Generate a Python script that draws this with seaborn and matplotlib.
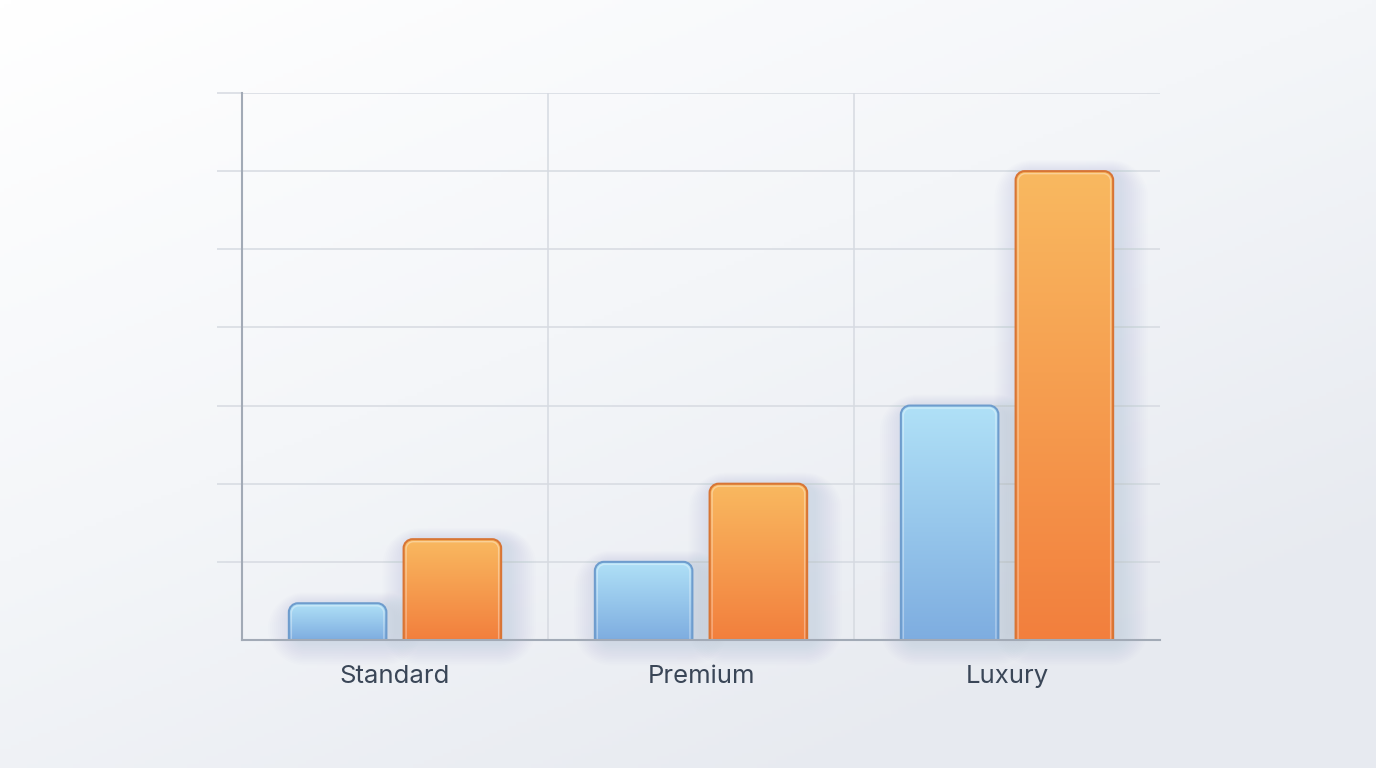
import numpy as np
import pandas as pd
import matplotlib
matplotlib.use("Agg")
import matplotlib.pyplot as plt
import seaborn as sns
from matplotlib.path import Path
from matplotlib.patches import PathPatch
from matplotlib.colors import LinearSegmentedColormap

categories = ["Standard", "Premium", "Luxury"]
series = ["Series A", "Series B"]
values_a = [0.47, 1.0, 3.0]
values_b = [1.29, 2.0, 6.0]

df = pd.DataFrame({
    "category": categories * 2,
    "series": [series[0]] * 3 + [series[1]] * 3,
    "value": values_a + values_b,
})

sns.set_theme(style="white")
plt.rcParams["font.family"] = ["Inter", "DejaVu Sans"]

W, H, DPI = 13.76, 7.68, 100
fig = plt.figure(figsize=(W, H), dpi=DPI)

# background gradient
bg = fig.add_axes([0, 0, 1, 1], zorder=-10)
yy, xx = np.mgrid[0:1:200j, 0:1:360j]
t = np.clip((xx * 0.55 + yy * 0.75) / 1.1, 0, 1)
bg_cmap = LinearSegmentedColormap.from_list("bg", ["#ffffff", "#f4f6f9", "#e7eaf0"])
bg.imshow(t, cmap=bg_cmap, aspect="auto", extent=[0, 1, 0, 1], origin="upper")
bg.set_axis_off()

ax = fig.add_axes([242 / 1376, 1 - 640 / 768, (1160 - 242) / 1376, (640 - 93) / 768])
ax.set_facecolor("none")

blue_top, blue_bot, blue_edge = "#b0e1f7", "#7eade0", "#6e9ccd"
orng_top, orng_bot, orng_edge = "#f9b960", "#f27f3d", "#d87535"

sns.barplot(data=df, x="category", y="value", hue="series",
            palette=[blue_bot, orng_bot], width=0.75, gap=0.15,
            legend=False, ax=ax, zorder=3)

ax.set_xlim(-0.5, 2.5)
ax.set_ylim(0, 7)
ax.set_yticks(np.arange(1, 8, 1))
ax.set_yticklabels([])
ax.set_xlabel("")
ax.set_ylabel("")

grid_c = "#d6dae1"
ax.yaxis.grid(True, color=grid_c, lw=1.1, zorder=0)
for xv in [0.5, 1.5]:
    ax.axvline(xv, color=grid_c, lw=1.1, zorder=0)
ax.tick_params(axis="y", length=18, width=1.1, color=grid_c, left=True)
ax.tick_params(axis="x", length=0, pad=18, labelsize=18.5, labelcolor="#3a4657")
for s in ["top", "right"]:
    ax.spines[s].set_visible(False)
for s in ["left", "bottom"]:
    ax.spines[s].set_color("#a2aab6")
    ax.spines[s].set_linewidth(1.5)
    ax.spines[s].set_zorder(6)

fig.canvas.draw()
p0 = ax.transData.transform((0, 0))
p1 = ax.transData.transform((1, 1))
px_x = p1[0] - p0[0]
px_y = p1[1] - p0[1]
r_px = 9
rx, ry = r_px / px_x, r_px / px_y
K = 0.5523


def rounded_top_path(x0, x1, y0, y1, rx, ry):
    k = K
    verts = [
        (x0, y0), (x0, y1 - ry),
        (x0, y1 - ry + k * ry), (x0 + rx - k * rx, y1), (x0 + rx, y1),
        (x1 - rx, y1),
        (x1 - rx + k * rx, y1), (x1, y1 - ry + k * ry), (x1, y1 - ry),
        (x1, y0), (x0, y0),
    ]
    codes = [Path.MOVETO, Path.LINETO,
             Path.CURVE4, Path.CURVE4, Path.CURVE4,
             Path.LINETO,
             Path.CURVE4, Path.CURVE4, Path.CURVE4,
             Path.LINETO, Path.CLOSEPOLY]
    return Path(verts, codes)


def rounded_rect_path(x0, x1, y0, y1, rx, ry):
    k = K
    verts = [
        (x0 + rx, y0), (x1 - rx, y0),
        (x1 - rx + k * rx, y0), (x1, y0 + ry - k * ry), (x1, y0 + ry),
        (x1, y1 - ry),
        (x1, y1 - ry + k * ry), (x1 - rx + k * rx, y1), (x1 - rx, y1),
        (x0 + rx, y1),
        (x0 + rx - k * rx, y1), (x0, y1 - ry + k * ry), (x0, y1 - ry),
        (x0, y0 + ry),
        (x0, y0 + ry - k * ry), (x0 + rx - k * rx, y0), (x0 + rx, y0),
        (x0 + rx, y0),
    ]
    codes = [Path.MOVETO, Path.LINETO,
             Path.CURVE4, Path.CURVE4, Path.CURVE4,
             Path.LINETO,
             Path.CURVE4, Path.CURVE4, Path.CURVE4,
             Path.LINETO,
             Path.CURVE4, Path.CURVE4, Path.CURVE4,
             Path.LINETO,
             Path.CURVE4, Path.CURVE4, Path.CURVE4,
             Path.CLOSEPOLY]
    return Path(verts, codes)


bars = list(ax.patches)
for b in bars:
    x0 = b.get_x()
    w = b.get_width()
    h = b.get_height()
    if h <= 0:
        continue
    b.set_visible(False)
    fc = b.get_facecolor()
    is_blue = fc[2] > fc[0]
    top, bot, edge = (blue_top, blue_bot, blue_edge) if is_blue else (orng_top, orng_bot, orng_edge)
    x1 = x0 + w
    # soft shadow (fully rounded, layered)
    off_x, off_y = 7 / px_x, -3 / px_y
    for j in range(14):
        spread = (j + 1) * 2.0
        sx, sy = spread / px_x, spread / px_y
        sp = rounded_rect_path(x0 - sx + off_x, x1 + sx + off_x,
                               -sy * 0.8 + off_y, h + sy * 0.5 + off_y,
                               rx + sx, ry + sy)
        ax.add_patch(PathPatch(sp, facecolor="#53627e", edgecolor="none",
                               alpha=0.009, zorder=2, clip_on=False))
    path = rounded_top_path(x0, x1, 0, h, rx, ry)
    patch = PathPatch(path, facecolor="none", edgecolor="none", zorder=3)
    ax.add_patch(patch)
    cmap = LinearSegmentedColormap.from_list("g", [bot, top])
    grad = np.linspace(0, 1, 256).reshape(-1, 1)
    im = ax.imshow(grad, cmap=cmap, aspect="auto", extent=[x0, x1, 0, h],
                   origin="lower", zorder=3.5, interpolation="bicubic")
    im.set_clip_path(patch)
    ip = rounded_top_path(x0 + 2.5 / px_x, x1 - 2.5 / px_x, 0, h - 2.5 / px_y,
                          rx * 0.8, ry * 0.8)
    ax.add_patch(PathPatch(ip, facecolor="none", edgecolor="white", lw=1.0,
                           alpha=0.35, zorder=4))
    ax.add_patch(PathPatch(path, facecolor="none", edgecolor=edge, lw=1.5, zorder=4.5))

ax.set_xlim(-0.5, 2.5)
ax.set_ylim(0, 7)

fig.savefig("out.png", dpi=DPI)
